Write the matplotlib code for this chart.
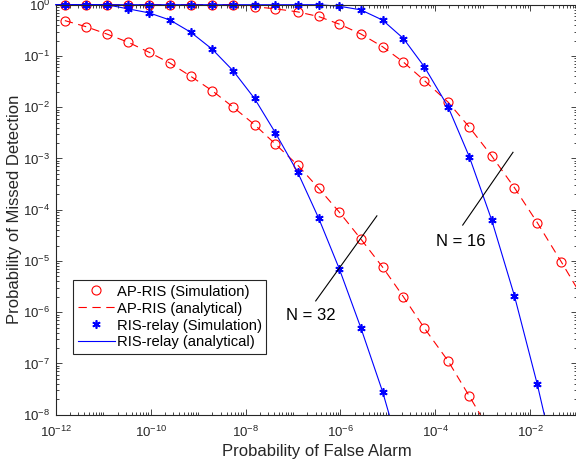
import numpy as np
import matplotlib
matplotlib.use('Agg')
import matplotlib.pyplot as plt
from matplotlib.ticker import FixedLocator, FuncFormatter, NullFormatter
from matplotlib.lines import Line2D

plt.rcParams['font.family'] = ['Liberation Sans', 'DejaVu Sans']
plt.rcParams['mathtext.fontset'] = 'custom'
plt.rcParams['mathtext.rm'] = 'Liberation Sans'
plt.rcParams['mathtext.it'] = 'Liberation Sans:italic'
plt.rcParams['mathtext.bf'] = 'Liberation Sans:bold'

# log10 of false alarm probability at the simulated points
pfa_exp = [-11.81, -11.36, -10.93, -10.48, -10.03, -9.59, -9.15, -8.70, -8.26, -7.81,
           -7.37, -6.90, -6.46, -6.02, -5.57, -5.11, -4.67, -4.23, -3.73, -3.28,
           -2.81, -2.33, -1.85, -1.34]

# log10 of missed detection probability (simulation points)
ap32_sim = [-0.31, -0.43, -0.57, -0.73, -0.93, -1.14, -1.40, -1.68, -2.00, -2.34,
            -2.72, -3.13, -3.58, -4.05, -4.57, -5.12, -5.70, -6.31, -6.95, -7.64]
relay32_sim = [0.0, 0.0, 0.0, -0.08, -0.16, -0.30, -0.54, -0.87, -1.29, -1.83,
               -2.50, -3.27, -4.16, -5.16, -6.30, -7.55]
ap16_sim = [0.0, 0.0, 0.0, 0.0, 0.0, 0.0, 0.0, 0.0, 0.0, -0.04,
            -0.08, -0.14, -0.23, -0.38, -0.57, -0.82, -1.12, -1.48, -1.90, -2.39,
            -2.95, -3.57, -4.25, -5.02]
relay16_sim = [0.0, 0.0, 0.0, 0.0, 0.0, 0.0, 0.0, 0.0, 0.0, 0.0,
               0.0, 0.0, 0.0, -0.03, -0.10, -0.30, -0.66, -1.21, -1.99, -2.97,
               -4.20, -5.68, -7.40]

# analytical curves (same points plus the ends where the curves meet the axes)
ap32_ana_x = pfa_exp[:20] + [-3.05]
ap32_ana_y = ap32_sim + [-8.0]
relay32_ana_x = [-12.0] + pfa_exp[:16] + [-4.97]
relay32_ana_y = [0.0] + relay32_sim + [-8.0]
ap16_ana_x = [-12.0] + pfa_exp[:24] + [-1.0]
ap16_ana_y = [0.0] + ap16_sim + [-5.55]
relay16_ana_x = [-12.0] + pfa_exp[:23] + [-1.70]
relay16_ana_y = [0.0] + relay16_sim + [-8.0]

def p(v):
    return 10.0 ** np.array(v)

fig = plt.figure(figsize=(5.76, 4.66), dpi=100)
ax = fig.add_axes([0.0969, 0.1101, 0.9057, 0.8798])

red = '#ff0000'
blue = '#0000ff'
asterisk = (6, 2, 0)

# analytical lines
ax.plot(p(ap32_ana_x), p(ap32_ana_y), color=red, lw=0.8, dashes=(7.5, 5), clip_on=False)
ax.plot(p(ap16_ana_x), p(ap16_ana_y), color=red, lw=0.8, dashes=(7.5, 5), clip_on=False)
# simulation circles
ax.plot(p(pfa_exp[:20]), p(ap32_sim), ls='none', marker='o', ms=6.5, mfc='none',
        mec=red, mew=0.8, clip_on=False)
ax.plot(p(pfa_exp[:24]), p(ap16_sim), ls='none', marker='o', ms=6.5, mfc='none',
        mec=red, mew=0.8, clip_on=False)

ax.plot(p(relay32_ana_x), p(relay32_ana_y), color=blue, lw=0.8, clip_on=False)
ax.plot(p(relay16_ana_x), p(relay16_ana_y), color=blue, lw=0.8, clip_on=False)
ax.plot(p(pfa_exp[:16]), p(relay32_sim), ls='none', marker=asterisk, ms=6, mec=blue,
        mew=1.2, clip_on=False)
ax.plot(p(pfa_exp[:23]), p(relay16_sim), ls='none', marker=asterisk, ms=6, mec=blue,
        mew=1.2, clip_on=False)

ax.set_xscale('log')
ax.set_yscale('log')
ax.set_xlim(1e-12, 1e-1)
ax.set_ylim(1e-8, 1e0)

dark = '#262626'
xmaj = [10.0 ** e for e in range(-12, 0, 2)]
xmin = [k * 10.0 ** e for e in range(-12, -1) for k in range(1, 10)
        if not (k == 1 and e % 2 == 0)]
ymaj = [10.0 ** e for e in range(-8, 1)]
ymin = [k * 10.0 ** e for e in range(-8, 0) for k in range(2, 10)]
fmt = FuncFormatter(lambda v, pos: r'$10^{%d}$' % round(np.log10(v)))
ax.xaxis.set_major_locator(FixedLocator(xmaj))
ax.xaxis.set_minor_locator(FixedLocator(xmin))
ax.yaxis.set_major_locator(FixedLocator(ymaj))
ax.yaxis.set_minor_locator(FixedLocator(ymin))
ax.xaxis.set_major_formatter(fmt)
ax.yaxis.set_major_formatter(fmt)
ax.xaxis.set_minor_formatter(NullFormatter())
ax.yaxis.set_minor_formatter(NullFormatter())
ax.tick_params(which='both', direction='in', top=True, right=True, colors=dark,
               labelsize=9.5, width=0.6)
ax.tick_params(which='major', length=4)
ax.tick_params(which='minor', length=2.2)
ax.tick_params(axis='x', pad=7.5)
ax.tick_params(axis='y', pad=4)
for s in ax.spines.values():
    s.set_color(dark)
    s.set_linewidth(0.8)

ax.set_xlabel('Probability of False Alarm', fontsize=12, color=dark, labelpad=3)
ax.set_ylabel('Probability of Missed Detection', fontsize=12, color=dark)
ax.yaxis.set_label_coords(-0.064, 0.5)

# N annotations
ax.plot(p([-6.52, -5.23]), p([-5.78, -4.12]), color='black', lw=0.8)
ax.plot(p([-3.42, -2.36]), p([-4.30, -2.88]), color='black', lw=0.8)
ax.text(p(-7.14), p(-6.07), 'N = 32', fontsize=12, va='center', ha='left')
ax.text(p(-3.99), p(-4.62), 'N = 16', fontsize=12, va='center', ha='left')

handles = [
    Line2D([], [], ls='none', marker='o', ms=6.5, mfc='none', mec=red, mew=0.8),
    Line2D([], [], color=red, lw=0.8, dashes=(7.5, 5)),
    Line2D([], [], ls='none', marker=asterisk, ms=6, mec=blue, mew=1.2),
    Line2D([], [], color=blue, lw=0.8),
]
labels = ['AP-RIS (Simulation)', 'AP-RIS (analytical)', 'RIS-relay (Simulation)',
          'RIS-relay (analytical)']
leg = ax.legend(handles, labels, loc='upper left', bbox_to_anchor=(0.0337, 0.328),
                borderaxespad=0, fontsize=10.6, handlelength=2.5, handletextpad=0.15,
                labelspacing=0.2, borderpad=0.3, fancybox=False, framealpha=1)
leg.get_frame().set_edgecolor(dark)
leg.get_frame().set_linewidth(0.8)

fig.savefig('out.png', dpi=100)
